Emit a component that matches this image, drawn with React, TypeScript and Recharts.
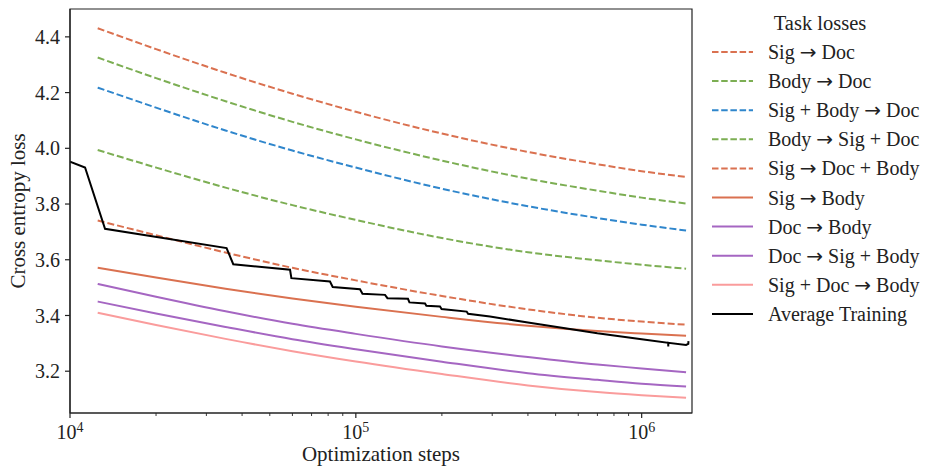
import React from 'react';
import { LineChart, Line, XAxis, YAxis, ReferenceArea } from 'recharts';

const FONT = '"Liberation Serif", "DejaVu Serif", serif';
const ARROW_FONT = '"DejaVu Sans", sans-serif';
const AXIS = '#222222';

// sampled steps shared by the task curves
const taskSteps = [12500, 20000, 35000, 60000, 100000, 200000, 400000, 700000, 1000000, 1430000];

const sigToDoc = [4.431, 4.356, 4.271, 4.196, 4.131, 4.053, 3.987, 3.943, 3.918, 3.897];
const bodyToDoc = [4.326, 4.252, 4.169, 4.095, 4.032, 3.956, 3.891, 3.848, 3.823, 3.802];
const sigBodyToDoc = [4.218, 4.146, 4.064, 3.992, 3.931, 3.855, 3.792, 3.75, 3.726, 3.705];
const bodyToSigDoc = [3.994, 3.931, 3.859, 3.796, 3.743, 3.678, 3.627, 3.598, 3.582, 3.568];
const sigToDocBody = [3.741, 3.688, 3.626, 3.571, 3.526, 3.47, 3.422, 3.392, 3.378, 3.367];
const sigToBody = [3.571, 3.536, 3.496, 3.461, 3.431, 3.395, 3.363, 3.344, 3.335, 3.327];
const docToBody = [3.513, 3.467, 3.415, 3.37, 3.334, 3.289, 3.251, 3.224, 3.21, 3.196];
const docToSigBody = [3.45, 3.407, 3.359, 3.315, 3.279, 3.234, 3.193, 3.169, 3.155, 3.145];
const sigDocToBody = [3.41, 3.366, 3.316, 3.272, 3.235, 3.19, 3.149, 3.125, 3.114, 3.105];

// average training loss (stepped)
const trainSteps = [
  10000, 11290, 13260, 35300, 37250, 58860, 59500, 81200, 83000, 103400, 105500, 126500, 129000,
  152200, 154000, 174600, 176500, 197000, 199500, 244200, 247000, 294600, 400000, 700000, 1000000,
  1238000, 1239000, 1240000, 1430000, 1456000, 1458000,
];
const trainLoss = [
  3.952, 3.931, 3.711, 3.642, 3.584, 3.564, 3.534, 3.522, 3.502, 3.494, 3.478, 3.474, 3.462,
  3.46, 3.447, 3.443, 3.435, 3.432, 3.423, 3.414, 3.406, 3.396, 3.375, 3.336, 3.315,
  3.302, 3.289, 3.302, 3.294, 3.298, 3.308,
];

const xMajorTicks = [10000, 100000, 1000000];
const xMinorTicks = [
  20000, 30000, 40000, 50000, 60000, 70000, 80000, 90000,
  200000, 300000, 400000, 500000, 600000, 700000, 800000, 900000,
];
const yTicks = [3.2, 3.4, 3.6, 3.8, 4.0, 4.2, 4.4];

const ORANGE = '#DA7150';
const GREEN = '#7CAE53';
const BLUE = '#2F86CC';
const PURPLE = '#A566C2';
const PINK = '#FA9C9C';

const tasks = [
  { name: 'Sig → Doc', values: sigToDoc, color: ORANGE, dashed: true },
  { name: 'Body → Doc', values: bodyToDoc, color: GREEN, dashed: true },
  { name: 'Sig + Body → Doc', values: sigBodyToDoc, color: BLUE, dashed: true },
  { name: 'Body → Sig + Doc', values: bodyToSigDoc, color: GREEN, dashed: true },
  { name: 'Sig → Doc + Body', values: sigToDocBody, color: ORANGE, dashed: true },
  { name: 'Sig → Body', values: sigToBody, color: ORANGE, dashed: false },
  { name: 'Doc → Body', values: docToBody, color: PURPLE, dashed: false },
  { name: 'Doc → Sig + Body', values: docToSigBody, color: PURPLE, dashed: false },
  { name: 'Sig + Doc → Body', values: sigDocToBody, color: PINK, dashed: false },
];

const trainData = trainSteps.map((s, i) => ({ step: s, loss: trainLoss[i] }));

const XTick = (props: any) => {
  const { x, y, payload } = props;
  const v = payload.value as number;
  const major = xMajorTicks.includes(v);
  const exp = Math.round(Math.log10(v));
  return (
    <g>
      <line x1={x} x2={x} y1={y} y2={y + (major ? 5 : 3)} stroke={AXIS} strokeWidth={major ? 1.2 : 0.9} />
      {major && (
        <text x={x} y={y + 26} textAnchor="middle" fontFamily={FONT} fontSize={20} fill={AXIS}>
          10
          <tspan dy={-7} fontSize={14}>
            {exp}
          </tspan>
        </text>
      )}
    </g>
  );
};

const YTitle = (props: any) => {
  const { viewBox } = props;
  const cy = viewBox.y + viewBox.height / 2;
  return (
    <text
      x={25}
      y={cy}
      transform={`rotate(-90, 25, ${cy})`}
      textAnchor="middle"
      fontFamily={FONT}
      fontSize={21}
      fill={AXIS}
    >
      Cross entropy loss
    </text>
  );
};

const XTitle = (props: any) => {
  const { viewBox } = props;
  return (
    <text
      x={viewBox.x + viewBox.width / 2}
      y={461}
      textAnchor="middle"
      fontFamily={FONT}
      fontSize={21}
      fill={AXIS}
    >
      Optimization steps
    </text>
  );
};

// the arrow glyph is taken from DejaVu Sans so it is long like the LaTeX one
const renderName = (name: string) =>
  name.split('→').map((part, i) => (
    <React.Fragment key={i}>
      {i > 0 && <tspan fontFamily={ARROW_FONT}>→</tspan>}
      {part}
    </React.Fragment>
  ));

const LegendBox = () => {
  const rows = [
    ...tasks.map((t) => ({ name: t.name, color: t.color, dashed: t.dashed })),
    { name: 'Average Training', color: '#000000', dashed: false },
  ];
  return (
    <svg width={248} height={340} style={{ position: 'absolute', left: 690, top: 0 }}>
      <text x={130} y={30} textAnchor="middle" fontFamily={FONT} fontSize={20.5} fill={AXIS}>
        Task losses
      </text>
      {rows.map((r, i) => {
        const cy = 52 + i * 29.1;
        return (
          <g key={r.name}>
            <line
              x1={22}
              x2={63}
              y1={cy}
              y2={cy}
              stroke={r.color}
              strokeWidth={2}
              strokeDasharray={r.dashed ? '6.5 2.7' : undefined}
            />
            <text x={78} y={cy + 7} fontFamily={FONT} fontSize={20} fill={AXIS} xmlSpace="preserve">
              {renderName(r.name)}
            </text>
          </g>
        );
      })}
    </svg>
  );
};

export default function App() {
  return (
    <div style={{ position: 'relative', width: 938, height: 472, background: '#fff' }}>
      <style>{'body{margin:0}'}</style>
      <LineChart width={938} height={472} margin={{ top: 9, right: 246, bottom: 0, left: 10 }}>
        <XAxis
          dataKey="step"
          type="number"
          scale="log"
          domain={[10000, 1500000]}
          allowDataOverflow
          ticks={[...xMajorTicks, ...xMinorTicks].sort((a, b) => a - b)}
          interval={0}
          tick={<XTick />}
          tickLine={false}
          tickSize={0}
          tickMargin={0}
          height={59}
          axisLine={{ stroke: AXIS, strokeWidth: 1.2 }}
          label={<XTitle />}
        />
        <YAxis
          type="number"
          domain={[3.05, 4.5]}
          allowDataOverflow
          ticks={yTicks}
          interval={0}
          tickFormatter={(v: number) => v.toFixed(1)}
          width={60}
          tickSize={5}
          tickMargin={5}
          tickLine={{ stroke: AXIS, strokeWidth: 1.2 }}
          axisLine={{ stroke: AXIS, strokeWidth: 1.2 }}
          tick={{ fill: AXIS, fontSize: 20, fontFamily: FONT }}
          label={<YTitle />}
        />
        {tasks.map((t) => (
          <Line
            key={t.name}
            data={taskSteps.map((s, i) => ({ step: s, loss: t.values[i] }))}
            dataKey="loss"
            type="monotone"
            stroke={t.color}
            strokeWidth={2}
            strokeDasharray={t.dashed ? '7 3' : undefined}
            dot={false}
            isAnimationActive={false}
          />
        ))}
        <Line
          data={trainData}
          dataKey="loss"
          type="linear"
          stroke="#000000"
          strokeWidth={2}
          dot={false}
          isAnimationActive={false}
        />
        <ReferenceArea
          x1={10000}
          x2={1500000}
          y1={3.05}
          y2={4.5}
          fill="none"
          stroke={AXIS}
          strokeWidth={1.2}
          ifOverflow="visible"
        />
      </LineChart>
      <LegendBox />
    </div>
  );
}
